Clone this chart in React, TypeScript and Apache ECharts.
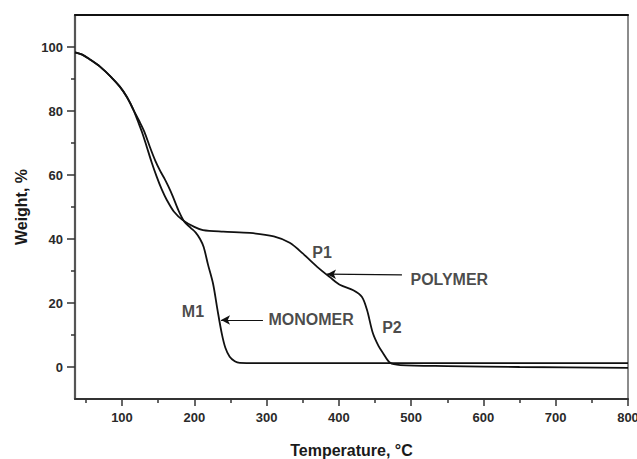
import React, { useEffect, useRef } from "react";
import * as echarts from "echarts";

// Monomer TGA curve
const monomerT = [35, 45, 55, 70, 85, 97, 107, 116, 124, 131, 139, 146, 153, 159, 164, 170, 178, 186, 195, 202, 208, 213, 219, 226, 232, 238, 243, 249, 256, 263, 300, 400, 500, 600, 700, 800];
const monomerW = [98.3, 97.6, 96.2, 93.8, 90.6, 87.6, 84.3, 80.3, 76.8, 73.5, 68.5, 64.5, 61.2, 58.8, 56.5, 53.5, 49, 45.5, 43.5, 42, 40, 37.5, 32, 26, 18, 10.5, 6, 3.2, 1.8, 1.3, 1.2, 1.2, 1.2, 1.2, 1.2, 1.2];

// Polymer TGA curve
const polymerT = [35, 45, 55, 70, 85, 97, 107, 116, 122, 128, 134, 141, 148, 155, 162, 172, 184, 200, 212, 240, 277, 310, 332, 350, 370, 388, 402, 420, 432, 439, 447, 455, 461, 471, 485, 550, 650, 800];
const polymerW = [98.3, 97.6, 96.2, 93.8, 90.6, 87.6, 84.3, 80.3, 76.8, 73.2, 69, 64, 59.5, 55.5, 52.2, 48.5, 45.9, 43.8, 42.8, 42.3, 41.9, 40.8, 38.8, 35.5, 31.3, 28, 25.6, 24, 21.9, 17.8, 10.6, 6.5, 4.4, 1.3, 0.6, 0.3, 0.0, -0.3];

// Axis ticks
const xMajor = [100, 200, 300, 400, 500, 600, 700, 800];
const xMinor = [50, 150, 250, 350, 450, 550, 650, 750];
const yMajor = [0, 20, 40, 60, 80, 100];
const yMinor = [10, 30, 50, 70, 90];

// Annotation texts and anchors (data space)
const centerLabels = [
  { name: "P1", t: 376.7, w: 35.9 },
  { name: "M1", t: 198.2, w: 17.5 },
  { name: "P2", t: 473.5, w: 12.2 },
];
const leftLabels = [
  { name: "MONOMER", t: 302, w: 14.7 },
  { name: "POLYMER", t: 498.4, w: 27.5 },
];
const arrows = [
  { from: [295, 14.7], to: [237, 14.7] },
  { from: [487.3, 28.8], to: [383.6, 29.0] },
];

const FONT = "'Liberation Sans', Arial, sans-serif";
const TEXT = "#1a1a1a";

export default function App() {
  const ref = useRef<HTMLDivElement>(null);
  useEffect(() => {
    if (!ref.current) return;
    const chart = echarts.init(ref.current, null, { renderer: "svg" });
    const pairs = (a: number[], b: number[]) => a.map((v, i) => [v, b[i]]);
    const xBase = { type: "value", min: 35, max: 800, splitLine: { show: false } };
    const yBase = { type: "value", min: -10, max: 110, splitLine: { show: false } };
    const labelStyle = { fontFamily: FONT, fontWeight: "bold", fontSize: 13, color: "#2a2a2a" };
    chart.setOption({
      animation: false,
      backgroundColor: "#ffffff",
      grid: { left: 75, right: 9, top: 15, bottom: 60, containLabel: false, outerBoundsMode: "none" },
      xAxis: [
        {
          ...xBase,
          position: "bottom",
          name: "Temperature, °C",
          nameLocation: "middle",
          nameGap: 43,
          nameTextStyle: { fontFamily: FONT, fontWeight: "bold", fontSize: 16, color: TEXT },
          axisLine: { show: true, onZero: false, lineStyle: { color: "#333", width: 2 } },
          axisTick: { show: true, customValues: xMajor, length: 7, lineStyle: { color: "#333", width: 1.5 } },
          axisLabel: { show: true, customValues: xMajor, margin: 12, ...labelStyle },
        },
        {
          ...xBase,
          position: "bottom",
          axisLine: { show: false, onZero: false },
          axisTick: { show: true, customValues: xMinor, length: 4, lineStyle: { color: "#333", width: 1.5 } },
          axisLabel: { show: false },
        },
        {
          ...xBase,
          position: "top",
          axisLine: { show: true, onZero: false, lineStyle: { color: "#111", width: 2 } },
          axisTick: { show: false },
          axisLabel: { show: false },
        },
      ],
      yAxis: [
        {
          ...yBase,
          position: "left",
          name: "Weight, %",
          nameLocation: "middle",
          nameGap: 46,
          nameRotate: 90,
          nameTextStyle: { fontFamily: FONT, fontWeight: "bold", fontSize: 16, color: TEXT },
          axisLine: { show: true, onZero: false, lineStyle: { color: "#555", width: 2.2 } },
          axisTick: { show: true, customValues: yMajor, length: 8, lineStyle: { color: "#333", width: 1.5 } },
          axisLabel: { show: true, customValues: yMajor, margin: 12, ...labelStyle },
        },
        {
          ...yBase,
          position: "left",
          axisLine: { show: false, onZero: false },
          axisTick: { show: true, customValues: yMinor, length: 4, lineStyle: { color: "#333", width: 1.5 } },
          axisLabel: { show: false },
        },
        {
          ...yBase,
          position: "right",
          axisLine: { show: true, onZero: false, lineStyle: { color: "#666", width: 1.5 } },
          axisTick: { show: false },
          axisLabel: { show: false },
        },
      ],
      series: [
        {
          name: "Monomer",
          type: "line",
          data: pairs(monomerT, monomerW),
          showSymbol: false,
          smooth: 0.3,
          lineStyle: { color: "#111", width: 1.8 },
          markLine: {
            silent: true,
            symbol: ["none", "arrow"],
            symbolSize: [7, 9],
            label: { show: false },
            lineStyle: { color: "#111", width: 1.2, type: "solid" },
            data: arrows.map((a) => [{ coord: a.from }, { coord: a.to }]),
          },
        },
        {
          name: "Polymer",
          type: "line",
          data: pairs(polymerT, polymerW),
          showSymbol: false,
          smooth: 0.3,
          lineStyle: { color: "#111", width: 1.8 },
        },
        {
          name: "centerLabels",
          type: "scatter",
          symbolSize: 1,
          itemStyle: { color: "transparent" },
          silent: true,
          data: centerLabels.map((l) => ({ name: l.name, value: [l.t, l.w] })),
          label: {
            show: true,
            position: "inside",
            formatter: "{b}",
            fontFamily: FONT,
            fontWeight: "bold",
            fontSize: 16,
            color: TEXT,
          },
        },
        {
          name: "leftLabels",
          type: "scatter",
          symbolSize: 1,
          itemStyle: { color: "transparent" },
          silent: true,
          data: leftLabels.map((l) => ({ name: l.name, value: [l.t, l.w] })),
          label: {
            show: true,
            position: "right",
            distance: 0,
            formatter: "{b}",
            fontFamily: FONT,
            fontWeight: "bold",
            fontSize: 16,
            color: TEXT,
          },
        },
      ],
    });
    return () => chart.dispose();
  }, []);
  return (
    <div
      ref={ref}
      style={{ position: "fixed", left: 0, top: 0, width: 637, height: 459, background: "#fff" }}
    />
  );
}
